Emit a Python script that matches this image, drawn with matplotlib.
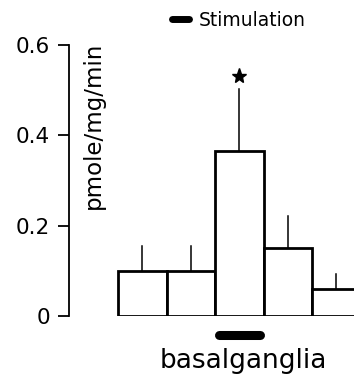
#!/usr/bin/env python3
"""Bar chart of basal ganglia rate (pmole/mg/min) around stimulation."""

import matplotlib

matplotlib.use("Agg")
import matplotlib.pyplot as plt
import numpy as np

# values
means = [0.10, 0.10, 0.365, 0.15, 0.059]
errors = [0.056, 0.056, 0.137, 0.072, 0.034]
stim_index = 2
significant = [False, False, True, False, False]
yticks = [0, 0.2, 0.4, 0.6]
ytick_labels = ["0", "0.2", "0.4", "0.6"]

plt.rcParams["font.family"] = ["DejaVu Sans"]

fig = plt.figure(figsize=(3.54, 3.79), dpi=100)
ax = fig.add_axes([0.195, 0.1662, 0.805, 0.715])

x = np.arange(len(means))
ax.bar(x, means, width=1.0, facecolor="white", edgecolor="black",
       linewidth=2.0, zorder=3)
for xi, m, e in zip(x, means, errors):
    ax.plot([xi, xi], [m, m + e], color="black", linewidth=1.1, zorder=2)

for xi, m, e, sig in zip(x, means, errors, significant):
    if sig:
        ax.plot(xi, m + e + 0.03, marker="*", color="black",
                markersize=11, clip_on=False)

# stimulation marker under the stimulated bar
ax.plot([stim_index - 0.42, stim_index + 0.42], [-0.043, -0.043],
        color="black", linewidth=6.5, solid_capstyle="round", clip_on=False)

ax.set_xlim(-1.51, 4.366)
ax.set_ylim(0, 0.6)
ax.set_yticks(yticks)
ax.set_yticklabels(ytick_labels, fontsize=15.5)
ax.set_xticks([])
ax.tick_params(axis="y", direction="out", length=8, width=1.3, pad=5.5)
for side in ("top", "right", "bottom"):
    ax.spines[side].set_visible(False)
ax.spines["left"].set_linewidth(1.3)
ax.spines["left"].set_bounds(0, 0.6)

ax.text(-1.0, 0.607, "pmole/mg/min", rotation=90, fontsize=16.5,
        ha="center", va="top")
ax.text(2.08, -0.1156, "basalganglia", fontsize=19,
        ha="center", va="baseline", clip_on=False)

# legend at the top
fig.lines.append(plt.Line2D([0.487, 0.535], [0.9486, 0.9486], color="black",
                            linewidth=5, solid_capstyle="round",
                            transform=fig.transFigure))
fig.text(0.562, 0.931, "Stimulation", fontsize=13.5, ha="left",
         va="baseline")

fig.savefig("out.png", dpi=100)
